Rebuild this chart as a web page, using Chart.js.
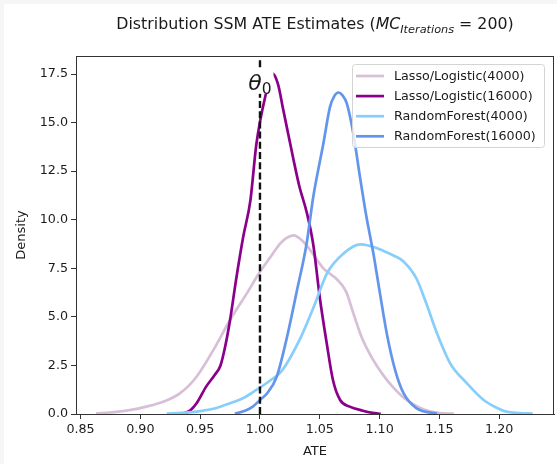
<!DOCTYPE html>
<html>
<head>
<meta charset="utf-8">
<script src="https://cdn.jsdelivr.net/npm/chart.js@4.4.0/dist/chart.umd.min.js"></script>
<style>
  html, body { margin: 0; padding: 0; background: #fff; }
  #kde { display: block; width: 557px; height: 464px; }
</style>
</head>
<body>
<canvas id="kde" width="557" height="464"></canvas>
<script>
// axis ticks
const X_TICKS = [0.85, 0.90, 0.95, 1.00, 1.05, 1.10, 1.15, 1.20];
const Y_TICKS = [0, 2.5, 5, 7.5, 10, 12.5, 15, 17.5];
const X_MIN = 0.8462, X_MAX = 1.2458;
const Y_MIN = 0, Y_MAX = 18.43;

// true value
const THETA0 = 1.0;
const THETA0_LABEL_Y = 17.1;

// KDE curves
const LL4000_X = [0.863, 0.878, 0.891, 0.905, 0.919, 0.933, 0.947, 0.961, 0.975, 0.989, 1.000, 1.009, 1.017, 1.022, 1.028, 1.035, 1.042, 1.053, 1.064, 1.072, 1.078, 1.085, 1.094, 1.103, 1.111, 1.121, 1.131, 1.141, 1.150, 1.162];
const LL4000_Y = [0.03, 0.10, 0.20, 0.38, 0.63, 1.06, 1.92, 3.29, 4.84, 6.21, 7.32, 8.10, 8.78, 9.05, 9.20, 8.95, 8.44, 7.50, 6.95, 6.30, 5.20, 3.95, 2.85, 2.00, 1.40, 0.80, 0.40, 0.15, 0.05, 0.02];

const LL16000_X = [0.936, 0.942, 0.947, 0.955, 0.962, 0.967, 0.971, 0.975, 0.980, 0.986, 0.992, 0.997, 1.005, 1.010, 1.015, 1.0195, 1.024, 1.028, 1.033, 1.039, 1.0446, 1.050, 1.0558, 1.061, 1.067, 1.075, 1.086, 1.094, 1.101];
const LL16000_Y = [0.02, 0.20, 0.55, 1.41, 2.00, 2.50, 3.50, 4.84, 6.90, 9.12, 11.0, 13.9, 16.5, 17.55, 17.0, 15.65, 14.3, 13.1, 11.7, 10.4, 8.7, 6.0, 3.64, 1.75, 0.72, 0.38, 0.17, 0.06, 0.01];

const RF4000_X = [0.922, 0.935, 0.947, 0.962, 0.975, 0.987, 0.997, 1.008, 1.018, 1.033, 1.045, 1.056, 1.070, 1.084, 1.095, 1.103, 1.112, 1.120, 1.131, 1.139, 1.148, 1.159, 1.173, 1.187, 1.197, 1.206, 1.217, 1.228];
const RF4000_Y = [0.02, 0.06, 0.12, 0.28, 0.55, 0.85, 1.24, 1.70, 2.20, 3.80, 5.52, 7.24, 8.27, 8.73, 8.60, 8.40, 8.15, 7.85, 6.95, 5.70, 4.15, 2.61, 1.58, 0.72, 0.35, 0.12, 0.05, 0.02];

const RF16000_X = [0.979, 0.987, 0.994, 1.000, 1.006, 1.014, 1.022, 1.031, 1.039, 1.0446, 1.053, 1.0585, 1.062, 1.0655, 1.069, 1.0725, 1.078, 1.0836, 1.089, 1.0947, 1.1003, 1.106, 1.113, 1.120, 1.131, 1.148];
const RF16000_Y = [0.02, 0.15, 0.38, 0.72, 1.07, 1.92, 3.80, 6.38, 8.78, 11.2, 13.93, 15.8, 16.35, 16.55, 16.4, 16.0, 14.45, 12.2, 10.15, 8.30, 6.21, 4.15, 2.26, 1.07, 0.29, 0.02];

const SERIES = [
  { label: 'Lasso/Logistic(4000)', xs: LL4000_X, ys: LL4000_Y, color: '#d8bfd8' },
  { label: 'Lasso/Logistic(16000)', xs: LL16000_X, ys: LL16000_Y, color: '#8b008b' },
  { label: 'RandomForest(4000)', xs: RF4000_X, ys: RF4000_Y, color: '#87cefa' },
  { label: 'RandomForest(16000)', xs: RF16000_X, ys: RF16000_Y, color: '#6495ed' }
];

const FONT = '"DejaVu Sans", "Liberation Sans", sans-serif';
const TXT = '#1a1a1a';
const LW = 2.7;

function toPoints(xs, ys) {
  return xs.map((x, i) => ({ x: x, y: ys[i] }));
}

// later series drawn on top, like matplotlib
const datasets = SERIES.map((s, i) => ({
  label: s.label,
  data: toPoints(s.xs, s.ys),
  borderColor: s.color,
  backgroundColor: s.color,
  borderWidth: LW,
  pointRadius: 0,
  fill: false,
  cubicInterpolationMode: 'monotone',
  order: SERIES.length - i
}));
datasets.push({
  label: 'theta0',
  data: [{ x: THETA0, y: Y_MIN }, { x: THETA0, y: Y_MAX }],
  borderColor: '#111',
  borderWidth: 2.4,
  borderDash: [7, 3.2],
  pointRadius: 0,
  tension: 0,
  order: 0
});

const overlay = {
  id: 'overlay',
  beforeDraw(chart) {
    const ctx = chart.ctx;
    ctx.save();
    ctx.fillStyle = '#f6f6f6';
    ctx.fillRect(0, 0, chart.width, chart.height);
    ctx.fillStyle = '#fff';
    ctx.fillRect(4, 4, chart.width - 4, chart.height - 4);
    ctx.restore();
  },
  afterDatasetsDraw(chart) {
    const ctx = chart.ctx;
    const cx = chart.scales.x.getPixelForValue(THETA0);
    const cy = chart.scales.y.getPixelForValue(THETA0_LABEL_Y);
    ctx.save();
    ctx.fillStyle = '#fff';
    ctx.fillRect(cx - 14, cy - 12, 27.5, 24);
    ctx.fillStyle = TXT;
    ctx.textBaseline = 'alphabetic';
    ctx.textAlign = 'left';
    ctx.font = 'italic 22px ' + FONT;
    const w = ctx.measureText('θ').width;
    ctx.font = '15.5px ' + FONT;
    const w0 = ctx.measureText('0').width;
    const x0 = cx - (w + w0) / 2;
    ctx.font = 'italic 22px ' + FONT;
    ctx.fillText('θ', x0, cy + 8);
    ctx.font = '15.5px ' + FONT;
    ctx.fillText('0', x0 + w, cy + 12);
    ctx.restore();
  },
  afterDraw(chart) {
    const ctx = chart.ctx;
    const { left, right, top, bottom } = chart.chartArea;
    ctx.save();

    // frame
    ctx.strokeStyle = '#333';
    ctx.lineWidth = 1;
    ctx.strokeRect(left + 0.5, top + 0.5, right - left - 1, bottom - top);

    // title with mathtext part
    const parts = [
      { t: 'Distribution SSM ATE Estimates (', f: '15.8px ' + FONT, dy: 0 },
      { t: 'MC', f: 'italic 15.8px ' + FONT, dy: 0 },
      { t: 'Iterations', f: 'italic 11.3px ' + FONT, dy: 3.6 },
      { t: ' = 200)', f: '15.8px ' + FONT, dy: 0 }
    ];
    let total = 0;
    parts.forEach(p => { ctx.font = p.f; p.w = ctx.measureText(p.t).width; total += p.w; });
    let x = (left + right) / 2 - total / 2;
    ctx.fillStyle = TXT;
    ctx.textAlign = 'left';
    ctx.textBaseline = 'alphabetic';
    parts.forEach(p => { ctx.font = p.f; ctx.fillText(p.t, x, 29 + p.dy); x += p.w; });

    // axis labels
    ctx.font = '13px ' + FONT;
    ctx.textAlign = 'center';
    ctx.textBaseline = 'middle';
    ctx.fillText('ATE', (left + right) / 2, 452);
    ctx.translate(22, (top + bottom) / 2);
    ctx.rotate(-Math.PI / 2);
    ctx.fillText('Density', 0, 0);
    ctx.setTransform(1, 0, 0, 1, 0, 0);

    // legend
    const bx = 352, by = 64, bw = 192, bh = 83;
    ctx.fillStyle = 'rgba(255,255,255,0.8)';
    ctx.strokeStyle = '#d4d4d4';
    ctx.lineWidth = 1;
    ctx.beginPath();
    ctx.roundRect(bx + 0.5, by + 0.5, bw, bh, 3);
    ctx.fill();
    ctx.stroke();
    ctx.font = '12.7px ' + FONT;
    ctx.textAlign = 'left';
    ctx.textBaseline = 'middle';
    SERIES.forEach((s, i) => {
      const ry = 76 + i * 20.1;
      ctx.strokeStyle = s.color;
      ctx.lineWidth = LW;
      ctx.beginPath();
      ctx.moveTo(356, ry);
      ctx.lineTo(384, ry);
      ctx.stroke();
      ctx.fillStyle = TXT;
      ctx.fillText(s.label, 394, ry + 0.5);
    });
    ctx.restore();
  }
};

new Chart(document.getElementById('kde').getContext('2d'), {
  type: 'line',
  data: { datasets: datasets },
  options: {
    responsive: false,
    animation: false,
    layout: { padding: { left: 0, top: 56, right: 3, bottom: 0 } },
    plugins: { legend: { display: false }, tooltip: { enabled: false }, title: { display: false } },
    scales: {
      x: {
        type: 'linear',
        min: X_MIN,
        max: X_MAX,
        afterBuildTicks: s => { s.ticks = X_TICKS.map(v => ({ value: v })); },
        afterFit: s => { s.height = 50; },
        grid: { drawOnChartArea: false, drawTicks: true, tickLength: 5, tickColor: '#333', tickWidth: 1 },
        border: { display: true, color: '#333', width: 1 },
        ticks: {
          padding: 3,
          color: TXT,
          font: { family: FONT, size: 12.7 },
          maxRotation: 0,
          autoSkip: false,
          callback: v => Number(v).toFixed(2)
        }
      },
      y: {
        type: 'linear',
        min: Y_MIN,
        max: Y_MAX,
        afterBuildTicks: s => { s.ticks = Y_TICKS.map(v => ({ value: v })); },
        afterFit: s => { s.width = 76; },
        grid: { drawOnChartArea: false, drawTicks: true, tickLength: 5, tickColor: '#333', tickWidth: 1 },
        border: { display: true, color: '#333', width: 1 },
        ticks: {
          padding: 3,
          color: TXT,
          font: { family: FONT, size: 12.7 },
          autoSkip: false,
          callback: v => Number(v).toFixed(1)
        }
      }
    }
  },
  plugins: [overlay]
});
</script>
</body>
</html>
